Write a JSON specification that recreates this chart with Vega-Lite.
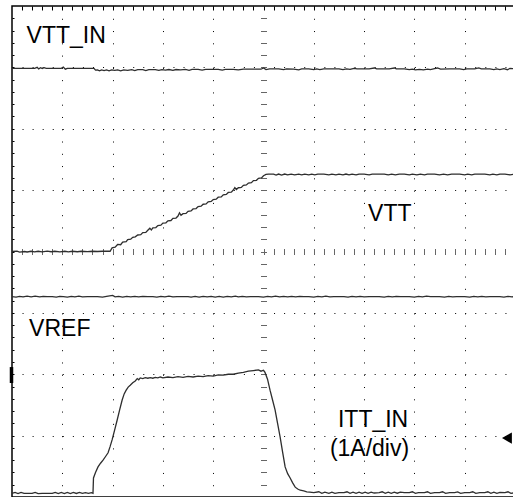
{
  "$schema": "https://vega.github.io/schema/vega-lite/v6.json",
  "width": 503,
  "height": 491,
  "autosize": {"type": "none"},
  "padding": {"left": 12, "top": 6, "right": 0, "bottom": 0},
  "background": "white",
  "config": {
    "view": {"stroke": "#000", "strokeWidth": 1.5},
    "axis": {"labels": false, "title": null, "domain": false, "grid": false, "ticks": false}
  },
  "datasets": {
    "traces": [
      {"s":"VTT_IN","t":0,"v":6.985},{"s":"VTT_IN","t":0.2,"v":6.985},{"s":"VTT_IN","t":0.45,"v":6.985},{"s":"VTT_IN","t":0.5,"v":7.0},{"s":"VTT_IN","t":0.53,"v":6.975},{"s":"VTT_IN","t":0.57,"v":6.995},{"s":"VTT_IN","t":0.6,"v":6.98},{"s":"VTT_IN","t":0.64,"v":6.995},{"s":"VTT_IN","t":0.68,"v":6.985},{"s":"VTT_IN","t":0.98,"v":6.985},{"s":"VTT_IN","t":1.02,"v":7.005},{"s":"VTT_IN","t":1.06,"v":6.97},{"s":"VTT_IN","t":1.1,"v":6.985},{"s":"VTT_IN","t":1.3,"v":6.985},{"s":"VTT_IN","t":1.63,"v":6.985},{"s":"VTT_IN","t":1.66,"v":6.955},{"s":"VTT_IN","t":1.7,"v":6.96},{"s":"VTT_IN","t":1.74,"v":6.945},{"s":"VTT_IN","t":1.78,"v":6.958},{"s":"VTT_IN","t":1.83,"v":6.948},{"s":"VTT_IN","t":1.88,"v":6.96},{"s":"VTT_IN","t":1.93,"v":6.945},{"s":"VTT_IN","t":1.98,"v":6.958},{"s":"VTT_IN","t":2.04,"v":6.95},{"s":"VTT_IN","t":2.1,"v":6.96},{"s":"VTT_IN","t":2.16,"v":6.945},{"s":"VTT_IN","t":2.22,"v":6.96},{"s":"VTT_IN","t":2.3,"v":6.952},{"s":"VTT_IN","t":2.38,"v":6.962},{"s":"VTT_IN","t":2.44,"v":6.948},{"s":"VTT_IN","t":2.5,"v":6.962},{"s":"VTT_IN","t":2.6,"v":6.962},{"s":"VTT_IN","t":2.66,"v":6.948},{"s":"VTT_IN","t":2.72,"v":6.962},{"s":"VTT_IN","t":2.85,"v":6.962},{"s":"VTT_IN","t":2.92,"v":6.95},{"s":"VTT_IN","t":2.98,"v":6.962},{"s":"VTT_IN","t":3.05,"v":6.955},{"s":"VTT_IN","t":3.12,"v":6.965},{"s":"VTT_IN","t":3.2,"v":6.95},{"s":"VTT_IN","t":3.26,"v":6.965},{"s":"VTT_IN","t":3.35,"v":6.96},{"s":"VTT_IN","t":3.45,"v":6.966},{"s":"VTT_IN","t":3.52,"v":6.952},{"s":"VTT_IN","t":3.58,"v":6.966},{"s":"VTT_IN","t":3.7,"v":6.966},{"s":"VTT_IN","t":3.78,"v":6.955},{"s":"VTT_IN","t":3.85,"v":6.968},{"s":"VTT_IN","t":4.0,"v":6.968},{"s":"VTT_IN","t":4.1,"v":6.968},{"s":"VTT_IN","t":4.18,"v":6.955},{"s":"VTT_IN","t":4.24,"v":6.968},{"s":"VTT_IN","t":4.4,"v":6.968},{"s":"VTT_IN","t":4.5,"v":6.96},{"s":"VTT_IN","t":4.6,"v":6.97},{"s":"VTT_IN","t":4.8,"v":6.97},{"s":"VTT_IN","t":4.95,"v":6.97},{"s":"VTT_IN","t":5.0,"v":6.99},{"s":"VTT_IN","t":5.05,"v":6.965},{"s":"VTT_IN","t":5.12,"v":6.975},{"s":"VTT_IN","t":5.3,"v":6.975},{"s":"VTT_IN","t":5.4,"v":6.962},{"s":"VTT_IN","t":5.46,"v":6.975},{"s":"VTT_IN","t":5.6,"v":6.972},{"s":"VTT_IN","t":5.7,"v":6.96},{"s":"VTT_IN","t":5.76,"v":6.975},{"s":"VTT_IN","t":5.9,"v":6.975},{"s":"VTT_IN","t":6.0,"v":6.962},{"s":"VTT_IN","t":6.06,"v":6.975},{"s":"VTT_IN","t":6.12,"v":6.965},{"s":"VTT_IN","t":6.2,"v":6.975},{"s":"VTT_IN","t":6.5,"v":6.975},{"s":"VTT_IN","t":6.58,"v":6.962},{"s":"VTT_IN","t":6.65,"v":6.975},{"s":"VTT_IN","t":6.72,"v":6.968},{"s":"VTT_IN","t":6.8,"v":6.985},{"s":"VTT_IN","t":6.86,"v":6.975},{"s":"VTT_IN","t":7.1,"v":6.975},{"s":"VTT_IN","t":7.2,"v":6.99},{"s":"VTT_IN","t":7.25,"v":6.975},{"s":"VTT_IN","t":7.5,"v":6.975},{"s":"VTT_IN","t":7.6,"v":6.99},{"s":"VTT_IN","t":7.64,"v":6.975},{"s":"VTT_IN","t":7.8,"v":6.975},{"s":"VTT_IN","t":7.9,"v":6.962},{"s":"VTT_IN","t":7.96,"v":6.97},{"s":"VTT_IN","t":8.02,"v":6.958},{"s":"VTT_IN","t":8.1,"v":6.968},{"s":"VTT_IN","t":8.18,"v":6.958},{"s":"VTT_IN","t":8.26,"v":6.972},{"s":"VTT_IN","t":8.32,"v":6.962},{"s":"VTT_IN","t":8.4,"v":6.98},{"s":"VTT_IN","t":8.46,"v":6.99},{"s":"VTT_IN","t":8.52,"v":6.97},{"s":"VTT_IN","t":8.7,"v":6.975},{"s":"VTT_IN","t":8.9,"v":6.975},{"s":"VTT_IN","t":8.98,"v":6.962},{"s":"VTT_IN","t":9.04,"v":6.975},{"s":"VTT_IN","t":9.2,"v":6.975},{"s":"VTT_IN","t":9.28,"v":6.99},{"s":"VTT_IN","t":9.33,"v":6.975},{"s":"VTT_IN","t":9.5,"v":6.975},{"s":"VTT_IN","t":9.58,"v":6.962},{"s":"VTT_IN","t":9.64,"v":6.975},{"s":"VTT_IN","t":9.7,"v":6.965},{"s":"VTT_IN","t":9.78,"v":6.98},{"s":"VTT_IN","t":9.85,"v":6.962},{"s":"VTT_IN","t":9.9,"v":6.985},{"s":"VTT_IN","t":10,"v":6.975},

      {"s":"VTT","t":0,"v":4.0},{"s":"VTT","t":0.1,"v":4.005},{"s":"VTT","t":0.15,"v":3.99},{"s":"VTT","t":0.25,"v":4.0},{"s":"VTT","t":0.3,"v":3.992},{"s":"VTT","t":0.38,"v":4.004},{"s":"VTT","t":0.45,"v":3.994},{"s":"VTT","t":0.52,"v":4.004},{"s":"VTT","t":0.6,"v":3.995},{"s":"VTT","t":0.7,"v":4.005},{"s":"VTT","t":0.78,"v":3.996},{"s":"VTT","t":0.85,"v":4.004},{"s":"VTT","t":0.95,"v":3.995},{"s":"VTT","t":1.05,"v":4.004},{"s":"VTT","t":1.12,"v":3.994},{"s":"VTT","t":1.2,"v":4.004},{"s":"VTT","t":1.3,"v":3.996},{"s":"VTT","t":1.38,"v":4.004},{"s":"VTT","t":1.5,"v":3.998},{"s":"VTT","t":1.6,"v":4.004},{"s":"VTT","t":1.7,"v":4.0},{"s":"VTT","t":1.8,"v":4.004},{"s":"VTT","t":1.95,"v":4.004},
      {"s":"VTT","t":1.99,"v":4.06},{"s":"VTT","t":2.05,"v":4.07},{"s":"VTT","t":2.1,"v":4.115},{"s":"VTT","t":2.16,"v":4.11},{"s":"VTT","t":2.2,"v":4.154},{"s":"VTT","t":2.27,"v":4.16},{"s":"VTT","t":2.3,"v":4.192},{"s":"VTT","t":2.36,"v":4.2},{"s":"VTT","t":2.4,"v":4.231},{"s":"VTT","t":2.45,"v":4.24},{"s":"VTT","t":2.5,"v":4.269},{"s":"VTT","t":2.56,"v":4.275},{"s":"VTT","t":2.6,"v":4.308},{"s":"VTT","t":2.66,"v":4.31},{"s":"VTT","t":2.7,"v":4.346},{"s":"VTT","t":2.74,"v":4.38},{"s":"VTT","t":2.77,"v":4.35},{"s":"VTT","t":2.8,"v":4.385},{"s":"VTT","t":2.86,"v":4.39},{"s":"VTT","t":2.9,"v":4.423},{"s":"VTT","t":2.96,"v":4.43},{"s":"VTT","t":3.0,"v":4.462},{"s":"VTT","t":3.06,"v":4.468},{"s":"VTT","t":3.1,"v":4.5},{"s":"VTT","t":3.16,"v":4.505},{"s":"VTT","t":3.2,"v":4.539},{"s":"VTT","t":3.26,"v":4.545},{"s":"VTT","t":3.3,"v":4.577},{"s":"VTT","t":3.33,"v":4.63},{"s":"VTT","t":3.36,"v":4.59},{"s":"VTT","t":3.4,"v":4.616},{"s":"VTT","t":3.46,"v":4.62},{"s":"VTT","t":3.5,"v":4.654},{"s":"VTT","t":3.56,"v":4.66},{"s":"VTT","t":3.6,"v":4.693},{"s":"VTT","t":3.66,"v":4.7},{"s":"VTT","t":3.7,"v":4.731},{"s":"VTT","t":3.76,"v":4.738},{"s":"VTT","t":3.8,"v":4.77},{"s":"VTT","t":3.86,"v":4.775},{"s":"VTT","t":3.9,"v":4.808},{"s":"VTT","t":3.96,"v":4.815},{"s":"VTT","t":4.0,"v":4.847},{"s":"VTT","t":4.06,"v":4.852},{"s":"VTT","t":4.1,"v":4.885},{"s":"VTT","t":4.16,"v":4.89},{"s":"VTT","t":4.2,"v":4.924},{"s":"VTT","t":4.26,"v":4.93},{"s":"VTT","t":4.3,"v":4.962},{"s":"VTT","t":4.36,"v":4.968},{"s":"VTT","t":4.4,"v":5.001},{"s":"VTT","t":4.43,"v":5.04},{"s":"VTT","t":4.46,"v":5.01},{"s":"VTT","t":4.5,"v":5.039},{"s":"VTT","t":4.56,"v":5.045},{"s":"VTT","t":4.6,"v":5.078},{"s":"VTT","t":4.66,"v":5.085},{"s":"VTT","t":4.7,"v":5.116},{"s":"VTT","t":4.76,"v":5.122},{"s":"VTT","t":4.8,"v":5.155},{"s":"VTT","t":4.86,"v":5.16},{"s":"VTT","t":4.9,"v":5.193},{"s":"VTT","t":4.96,"v":5.2},{"s":"VTT","t":5.0,"v":5.235},{"s":"VTT","t":5.05,"v":5.255},
      {"s":"VTT","t":5.1,"v":5.26},{"s":"VTT","t":5.2,"v":5.26},{"s":"VTT","t":5.25,"v":5.245},{"s":"VTT","t":5.3,"v":5.262},{"s":"VTT","t":5.36,"v":5.245},{"s":"VTT","t":5.42,"v":5.262},{"s":"VTT","t":5.48,"v":5.248},{"s":"VTT","t":5.55,"v":5.262},{"s":"VTT","t":5.62,"v":5.25},{"s":"VTT","t":5.7,"v":5.262},{"s":"VTT","t":5.76,"v":5.248},{"s":"VTT","t":5.82,"v":5.262},{"s":"VTT","t":5.9,"v":5.25},{"s":"VTT","t":5.96,"v":5.262},{"s":"VTT","t":6.02,"v":5.25},{"s":"VTT","t":6.08,"v":5.262},{"s":"VTT","t":6.2,"v":5.262},{"s":"VTT","t":6.3,"v":5.25},{"s":"VTT","t":6.36,"v":5.262},{"s":"VTT","t":6.44,"v":5.25},{"s":"VTT","t":6.5,"v":5.262},{"s":"VTT","t":6.58,"v":5.248},{"s":"VTT","t":6.64,"v":5.262},{"s":"VTT","t":6.7,"v":5.25},{"s":"VTT","t":6.76,"v":5.262},{"s":"VTT","t":6.84,"v":5.248},{"s":"VTT","t":6.9,"v":5.262},{"s":"VTT","t":7.0,"v":5.262},{"s":"VTT","t":7.1,"v":5.25},{"s":"VTT","t":7.16,"v":5.262},{"s":"VTT","t":7.3,"v":5.262},{"s":"VTT","t":7.4,"v":5.262},{"s":"VTT","t":7.48,"v":5.248},{"s":"VTT","t":7.55,"v":5.262},{"s":"VTT","t":7.62,"v":5.25},{"s":"VTT","t":7.7,"v":5.262},{"s":"VTT","t":7.8,"v":5.262},{"s":"VTT","t":7.9,"v":5.25},{"s":"VTT","t":7.96,"v":5.262},{"s":"VTT","t":8.05,"v":5.25},{"s":"VTT","t":8.12,"v":5.262},{"s":"VTT","t":8.2,"v":5.248},{"s":"VTT","t":8.26,"v":5.262},{"s":"VTT","t":8.4,"v":5.262},{"s":"VTT","t":8.5,"v":5.25},{"s":"VTT","t":8.58,"v":5.262},{"s":"VTT","t":8.66,"v":5.25},{"s":"VTT","t":8.74,"v":5.262},{"s":"VTT","t":8.9,"v":5.262},{"s":"VTT","t":9.0,"v":5.25},{"s":"VTT","t":9.06,"v":5.262},{"s":"VTT","t":9.14,"v":5.25},{"s":"VTT","t":9.2,"v":5.262},{"s":"VTT","t":9.4,"v":5.262},{"s":"VTT","t":9.5,"v":5.25},{"s":"VTT","t":9.56,"v":5.262},{"s":"VTT","t":9.64,"v":5.25},{"s":"VTT","t":9.7,"v":5.262},{"s":"VTT","t":9.8,"v":5.262},{"s":"VTT","t":9.9,"v":5.25},{"s":"VTT","t":10,"v":5.262},

      {"s":"VREF","t":0,"v":3.265},{"s":"VREF","t":0.08,"v":3.258},{"s":"VREF","t":0.15,"v":3.27},{"s":"VREF","t":0.22,"v":3.26},{"s":"VREF","t":0.3,"v":3.272},{"s":"VREF","t":0.38,"v":3.262},{"s":"VREF","t":0.46,"v":3.272},{"s":"VREF","t":0.55,"v":3.26},{"s":"VREF","t":0.62,"v":3.27},{"s":"VREF","t":0.7,"v":3.265},{"s":"VREF","t":0.8,"v":3.265},{"s":"VREF","t":0.88,"v":3.258},{"s":"VREF","t":0.95,"v":3.27},{"s":"VREF","t":1.02,"v":3.265},{"s":"VREF","t":1.1,"v":3.258},{"s":"VREF","t":1.18,"v":3.27},{"s":"VREF","t":1.25,"v":3.262},{"s":"VREF","t":1.33,"v":3.272},{"s":"VREF","t":1.4,"v":3.262},{"s":"VREF","t":1.5,"v":3.265},{"s":"VREF","t":1.6,"v":3.265},{"s":"VREF","t":1.7,"v":3.265},{"s":"VREF","t":1.8,"v":3.258},{"s":"VREF","t":1.88,"v":3.268},{"s":"VREF","t":2.0,"v":3.285},{"s":"VREF","t":2.05,"v":3.262},{"s":"VREF","t":2.12,"v":3.27},{"s":"VREF","t":2.2,"v":3.258},{"s":"VREF","t":2.28,"v":3.27},{"s":"VREF","t":2.36,"v":3.26},{"s":"VREF","t":2.44,"v":3.27},{"s":"VREF","t":2.52,"v":3.26},{"s":"VREF","t":2.6,"v":3.27},{"s":"VREF","t":2.7,"v":3.265},{"s":"VREF","t":2.8,"v":3.265},{"s":"VREF","t":2.88,"v":3.258},{"s":"VREF","t":2.96,"v":3.27},{"s":"VREF","t":3.04,"v":3.26},{"s":"VREF","t":3.12,"v":3.272},{"s":"VREF","t":3.2,"v":3.26},{"s":"VREF","t":3.28,"v":3.265},{"s":"VREF","t":3.4,"v":3.265},{"s":"VREF","t":3.5,"v":3.265},{"s":"VREF","t":3.56,"v":3.258},{"s":"VREF","t":3.64,"v":3.27},{"s":"VREF","t":3.72,"v":3.258},{"s":"VREF","t":3.8,"v":3.27},{"s":"VREF","t":3.88,"v":3.26},{"s":"VREF","t":3.96,"v":3.27},{"s":"VREF","t":4.04,"v":3.258},{"s":"VREF","t":4.12,"v":3.27},{"s":"VREF","t":4.2,"v":3.258},{"s":"VREF","t":4.28,"v":3.27},{"s":"VREF","t":4.36,"v":3.26},{"s":"VREF","t":4.44,"v":3.272},{"s":"VREF","t":4.5,"v":3.26},{"s":"VREF","t":4.58,"v":3.27},{"s":"VREF","t":4.66,"v":3.262},{"s":"VREF","t":4.74,"v":3.265},{"s":"VREF","t":4.9,"v":3.265},{"s":"VREF","t":5.0,"v":3.258},{"s":"VREF","t":5.08,"v":3.27},{"s":"VREF","t":5.16,"v":3.26},{"s":"VREF","t":5.24,"v":3.272},{"s":"VREF","t":5.32,"v":3.26},{"s":"VREF","t":5.4,"v":3.27},{"s":"VREF","t":5.48,"v":3.26},{"s":"VREF","t":5.56,"v":3.27},{"s":"VREF","t":5.64,"v":3.262},{"s":"VREF","t":5.72,"v":3.27},{"s":"VREF","t":5.8,"v":3.265},{"s":"VREF","t":5.9,"v":3.265},{"s":"VREF","t":6.0,"v":3.258},{"s":"VREF","t":6.08,"v":3.27},{"s":"VREF","t":6.16,"v":3.26},{"s":"VREF","t":6.24,"v":3.272},{"s":"VREF","t":6.32,"v":3.26},{"s":"VREF","t":6.4,"v":3.265},{"s":"VREF","t":6.6,"v":3.265},{"s":"VREF","t":6.68,"v":3.258},{"s":"VREF","t":6.76,"v":3.27},{"s":"VREF","t":6.84,"v":3.26},{"s":"VREF","t":6.92,"v":3.27},{"s":"VREF","t":7.0,"v":3.262},{"s":"VREF","t":7.1,"v":3.265},{"s":"VREF","t":7.3,"v":3.265},{"s":"VREF","t":7.4,"v":3.258},{"s":"VREF","t":7.48,"v":3.27},{"s":"VREF","t":7.56,"v":3.26},{"s":"VREF","t":7.64,"v":3.27},{"s":"VREF","t":7.72,"v":3.265},{"s":"VREF","t":7.9,"v":3.265},{"s":"VREF","t":8.0,"v":3.258},{"s":"VREF","t":8.08,"v":3.27},{"s":"VREF","t":8.16,"v":3.26},{"s":"VREF","t":8.24,"v":3.272},{"s":"VREF","t":8.32,"v":3.265},{"s":"VREF","t":8.5,"v":3.265},{"s":"VREF","t":8.6,"v":3.258},{"s":"VREF","t":8.68,"v":3.27},{"s":"VREF","t":8.76,"v":3.26},{"s":"VREF","t":8.84,"v":3.265},{"s":"VREF","t":9.0,"v":3.265},{"s":"VREF","t":9.1,"v":3.258},{"s":"VREF","t":9.18,"v":3.27},{"s":"VREF","t":9.26,"v":3.26},{"s":"VREF","t":9.34,"v":3.27},{"s":"VREF","t":9.42,"v":3.262},{"s":"VREF","t":9.5,"v":3.265},{"s":"VREF","t":9.7,"v":3.265},{"s":"VREF","t":9.78,"v":3.258},{"s":"VREF","t":9.86,"v":3.27},{"s":"VREF","t":9.94,"v":3.262},{"s":"VREF","t":10,"v":3.265},

      {"s":"ITT_IN","t":0,"v":0.06},{"s":"ITT_IN","t":0.06,"v":0.075},{"s":"ITT_IN","t":0.12,"v":0.055},{"s":"ITT_IN","t":0.18,"v":0.075},{"s":"ITT_IN","t":0.24,"v":0.06},{"s":"ITT_IN","t":0.4,"v":0.06},{"s":"ITT_IN","t":0.46,"v":0.075},{"s":"ITT_IN","t":0.52,"v":0.055},{"s":"ITT_IN","t":0.6,"v":0.06},{"s":"ITT_IN","t":0.8,"v":0.06},{"s":"ITT_IN","t":0.86,"v":0.075},{"s":"ITT_IN","t":0.92,"v":0.055},{"s":"ITT_IN","t":0.98,"v":0.075},{"s":"ITT_IN","t":1.04,"v":0.055},{"s":"ITT_IN","t":1.1,"v":0.075},{"s":"ITT_IN","t":1.16,"v":0.055},{"s":"ITT_IN","t":1.22,"v":0.075},{"s":"ITT_IN","t":1.28,"v":0.058},{"s":"ITT_IN","t":1.34,"v":0.075},{"s":"ITT_IN","t":1.4,"v":0.058},{"s":"ITT_IN","t":1.46,"v":0.07},{"s":"ITT_IN","t":1.52,"v":0.058},{"s":"ITT_IN","t":1.58,"v":0.07},{"s":"ITT_IN","t":1.61,"v":0.06},{"s":"ITT_IN","t":1.62,"v":0.31},{"s":"ITT_IN","t":1.66,"v":0.4},{"s":"ITT_IN","t":1.71,"v":0.49},{"s":"ITT_IN","t":1.76,"v":0.55},{"s":"ITT_IN","t":1.81,"v":0.6},{"s":"ITT_IN","t":1.86,"v":0.66},{"s":"ITT_IN","t":1.91,"v":0.72},{"s":"ITT_IN","t":1.95,"v":0.82},{"s":"ITT_IN","t":1.99,"v":0.93},{"s":"ITT_IN","t":2.04,"v":1.09},{"s":"ITT_IN","t":2.09,"v":1.25},{"s":"ITT_IN","t":2.14,"v":1.42},{"s":"ITT_IN","t":2.19,"v":1.58},{"s":"ITT_IN","t":2.23,"v":1.68},{"s":"ITT_IN","t":2.27,"v":1.74},{"s":"ITT_IN","t":2.31,"v":1.79},{"s":"ITT_IN","t":2.35,"v":1.82},{"s":"ITT_IN","t":2.4,"v":1.86},{"s":"ITT_IN","t":2.45,"v":1.89},{"s":"ITT_IN","t":2.49,"v":1.93},{"s":"ITT_IN","t":2.52,"v":1.91},{"s":"ITT_IN","t":2.55,"v":1.94},{"s":"ITT_IN","t":2.6,"v":1.93},{"s":"ITT_IN","t":2.65,"v":1.945},{"s":"ITT_IN","t":2.7,"v":1.935},{"s":"ITT_IN","t":2.75,"v":1.945},{"s":"ITT_IN","t":2.8,"v":1.935},{"s":"ITT_IN","t":2.85,"v":1.948},{"s":"ITT_IN","t":2.9,"v":1.94},{"s":"ITT_IN","t":2.95,"v":1.955},{"s":"ITT_IN","t":3.0,"v":1.942},{"s":"ITT_IN","t":3.1,"v":1.955},{"s":"ITT_IN","t":3.2,"v":1.945},{"s":"ITT_IN","t":3.3,"v":1.96},{"s":"ITT_IN","t":3.4,"v":1.95},{"s":"ITT_IN","t":3.5,"v":1.965},{"s":"ITT_IN","t":3.6,"v":1.955},{"s":"ITT_IN","t":3.7,"v":1.97},{"s":"ITT_IN","t":3.8,"v":1.96},{"s":"ITT_IN","t":3.9,"v":1.978},{"s":"ITT_IN","t":4.0,"v":1.97},{"s":"ITT_IN","t":4.1,"v":1.99},{"s":"ITT_IN","t":4.2,"v":1.985},{"s":"ITT_IN","t":4.3,"v":2.0},{"s":"ITT_IN","t":4.4,"v":2.0},{"s":"ITT_IN","t":4.5,"v":2.02},{"s":"ITT_IN","t":4.6,"v":2.03},{"s":"ITT_IN","t":4.7,"v":2.05},{"s":"ITT_IN","t":4.8,"v":2.06},{"s":"ITT_IN","t":4.9,"v":2.07},{"s":"ITT_IN","t":4.95,"v":2.05},{"s":"ITT_IN","t":5.0,"v":2.065},{"s":"ITT_IN","t":5.03,"v":2.03},{"s":"ITT_IN","t":5.08,"v":1.92},{"s":"ITT_IN","t":5.13,"v":1.74},{"s":"ITT_IN","t":5.18,"v":1.58},{"s":"ITT_IN","t":5.23,"v":1.42},{"s":"ITT_IN","t":5.28,"v":1.2},{"s":"ITT_IN","t":5.33,"v":0.98},{"s":"ITT_IN","t":5.38,"v":0.73},{"s":"ITT_IN","t":5.43,"v":0.49},{"s":"ITT_IN","t":5.48,"v":0.38},{"s":"ITT_IN","t":5.53,"v":0.31},{"s":"ITT_IN","t":5.58,"v":0.23},{"s":"ITT_IN","t":5.63,"v":0.16},{"s":"ITT_IN","t":5.68,"v":0.13},{"s":"ITT_IN","t":5.73,"v":0.11},{"s":"ITT_IN","t":5.8,"v":0.1},{"s":"ITT_IN","t":5.86,"v":0.085},{"s":"ITT_IN","t":5.92,"v":0.08},{"s":"ITT_IN","t":6.0,"v":0.07},{"s":"ITT_IN","t":6.1,"v":0.085},{"s":"ITT_IN","t":6.16,"v":0.06},{"s":"ITT_IN","t":6.22,"v":0.078},{"s":"ITT_IN","t":6.3,"v":0.06},{"s":"ITT_IN","t":6.36,"v":0.078},{"s":"ITT_IN","t":6.42,"v":0.06},{"s":"ITT_IN","t":6.5,"v":0.07},{"s":"ITT_IN","t":6.6,"v":0.07},{"s":"ITT_IN","t":6.66,"v":0.085},{"s":"ITT_IN","t":6.72,"v":0.06},{"s":"ITT_IN","t":6.78,"v":0.08},{"s":"ITT_IN","t":6.84,"v":0.06},{"s":"ITT_IN","t":6.9,"v":0.08},{"s":"ITT_IN","t":6.96,"v":0.06},{"s":"ITT_IN","t":7.02,"v":0.08},{"s":"ITT_IN","t":7.08,"v":0.06},{"s":"ITT_IN","t":7.14,"v":0.078},{"s":"ITT_IN","t":7.2,"v":0.065},{"s":"ITT_IN","t":7.3,"v":0.07},{"s":"ITT_IN","t":7.36,"v":0.085},{"s":"ITT_IN","t":7.42,"v":0.06},{"s":"ITT_IN","t":7.48,"v":0.08},{"s":"ITT_IN","t":7.54,"v":0.06},{"s":"ITT_IN","t":7.6,"v":0.078},{"s":"ITT_IN","t":7.66,"v":0.062},{"s":"ITT_IN","t":7.72,"v":0.08},{"s":"ITT_IN","t":7.8,"v":0.07},{"s":"ITT_IN","t":7.9,"v":0.07},{"s":"ITT_IN","t":7.96,"v":0.085},{"s":"ITT_IN","t":8.02,"v":0.06},{"s":"ITT_IN","t":8.08,"v":0.07},{"s":"ITT_IN","t":8.2,"v":0.07},{"s":"ITT_IN","t":8.26,"v":0.085},{"s":"ITT_IN","t":8.32,"v":0.06},{"s":"ITT_IN","t":8.4,"v":0.07},{"s":"ITT_IN","t":8.5,"v":0.07},{"s":"ITT_IN","t":8.56,"v":0.085},{"s":"ITT_IN","t":8.62,"v":0.06},{"s":"ITT_IN","t":8.7,"v":0.07},{"s":"ITT_IN","t":8.8,"v":0.07},{"s":"ITT_IN","t":8.86,"v":0.082},{"s":"ITT_IN","t":8.92,"v":0.06},{"s":"ITT_IN","t":9.0,"v":0.07},{"s":"ITT_IN","t":9.1,"v":0.07},{"s":"ITT_IN","t":9.16,"v":0.085},{"s":"ITT_IN","t":9.22,"v":0.06},{"s":"ITT_IN","t":9.3,"v":0.07},{"s":"ITT_IN","t":9.4,"v":0.07},{"s":"ITT_IN","t":9.46,"v":0.085},{"s":"ITT_IN","t":9.52,"v":0.06},{"s":"ITT_IN","t":9.58,"v":0.08},{"s":"ITT_IN","t":9.64,"v":0.06},{"s":"ITT_IN","t":9.7,"v":0.075},{"s":"ITT_IN","t":9.8,"v":0.07},{"s":"ITT_IN","t":9.86,"v":0.085},{"s":"ITT_IN","t":9.92,"v":0.06},{"s":"ITT_IN","t":10,"v":0.07}
    ],
    "labels": [
      {"x": 0.29, "y": 7.39, "label": "VTT_IN"},
      {"x": 7.08, "y": 4.5, "label": "VTT"},
      {"x": 0.34, "y": 2.622, "label": "VREF"},
      {"x": 6.48, "y": 1.145, "label": "ITT_IN"},
      {"x": 6.32, "y": 0.668, "label": "(1A/div)"}
    ],
    "markers": [
      {"x": 9.84, "y": 0.96, "kind": "trigger"}
    ],
    "ground": [
      {"x": -0.01, "y": 1.857, "y2": 2.117}
    ]
  },
  "layer": [
    {
      "data": {"name": "traces"},
      "mark": {"type": "line", "color": "#2e2e2e", "strokeWidth": 1.3},
      "encoding": {
        "x": {"field": "t", "type": "quantitative",
          "scale": {"domain": [0, 10], "nice": false, "zero": false},
          "axis": {"orient": "bottom", "grid": true, "values": [1, 2, 3, 4, 6, 7, 8, 9], "gridDash": [1, 11.275], "gridColor": "#000", "gridOpacity": 1, "gridWidth": 1}},
        "y": {"field": "v", "type": "quantitative",
          "scale": {"domain": [0, 8], "nice": false, "zero": false},
          "axis": {"orient": "left", "grid": true, "values": [1, 2, 3, 5, 6, 7], "gridDash": [1, 9.06], "gridColor": "#000", "gridOpacity": 1, "gridWidth": 1}},
        "detail": {"field": "s", "type": "nominal"}
      }
    },
    {
      "mark": {"type": "rule", "color": "#555", "strokeDash": [1, 1], "strokeWidth": 1},
      "encoding": {"y": {"datum": 4, "type": "quantitative", "axis": null}}
    },
    {
      "mark": {"type": "rule", "color": "#555", "strokeDash": [1, 1], "strokeWidth": 1},
      "encoding": {"x": {"datum": 5, "type": "quantitative", "axis": null}}
    },
    {
      "data": {"name": "labels"},
      "mark": {"type": "text", "align": "left", "baseline": "alphabetic", "font": "Liberation Sans", "fontSize": 23, "color": "#000"},
      "encoding": {
        "x": {"field": "x", "type": "quantitative",
          "axis": {"orient": "top", "ticks": true, "tickSize": -4, "tickColor": "#000", "tickWidth": 1,
            "values": [0.2,0.4,0.6,0.8,1,1.2,1.4,1.6,1.8,2,2.2,2.4,2.6,2.8,3,3.2,3.4,3.6,3.8,4,4.2,4.4,4.6,4.8,5,5.2,5.4,5.6,5.8,6,6.2,6.4,6.6,6.8,7,7.2,7.4,7.6,7.8,8,8.2,8.4,8.6,8.8,9,9.2,9.4,9.6,9.8]}},
        "y": {"field": "y", "type": "quantitative",
          "axis": {"orient": "left", "ticks": true, "tickSize": -2, "tickColor": "#000", "tickWidth": 1,
            "values": [0.2,0.4,0.6,0.8,1,1.2,1.4,1.6,1.8,2,2.2,2.4,2.6,2.8,3,3.2,3.4,3.6,3.8,4,4.2,4.4,4.6,4.8,5,5.2,5.4,5.6,5.8,6,6.2,6.4,6.6,6.8,7,7.2,7.4,7.6,7.8]}},
        "text": {"field": "label", "type": "nominal"}
      }
    },
    {
      "data": {"name": "markers"},
      "mark": {"type": "point", "shape": "triangle-left", "filled": true, "color": "#000", "size": 130, "opacity": 1},
      "encoding": {
        "x": {"field": "x", "type": "quantitative",
          "axis": {"orient": "bottom", "offset": -248.5, "ticks": true, "tickSize": 6, "tickColor": "#666", "tickWidth": 1,
            "values": [0.2,0.4,0.6,0.8,1,1.2,1.4,1.6,1.8,2,2.2,2.4,2.6,2.8,3,3.2,3.4,3.6,3.8,4,4.2,4.4,4.6,4.8,5,5.2,5.4,5.6,5.8,6,6.2,6.4,6.6,6.8,7,7.2,7.4,7.6,7.8,8,8.2,8.4,8.6,8.8,9,9.2,9.4,9.6,9.8]}},
        "y": {"field": "y", "type": "quantitative",
          "axis": {"orient": "left", "offset": -254.5, "ticks": true, "tickSize": 6, "tickColor": "#666", "tickWidth": 1,
            "values": [0.2,0.4,0.6,0.8,1,1.2,1.4,1.6,1.8,2,2.2,2.4,2.6,2.8,3,3.2,3.4,3.6,3.8,4,4.2,4.4,4.6,4.8,5,5.2,5.4,5.6,5.8,6,6.2,6.4,6.6,6.8,7,7.2,7.4,7.6,7.8]}}
      }
    },
    {
      "data": {"name": "ground"},
      "mark": {"type": "rule", "color": "#000", "strokeWidth": 3.5},
      "encoding": {
        "x": {"field": "x", "type": "quantitative", "axis": null},
        "y": {"field": "y", "type": "quantitative", "axis": null},
        "y2": {"field": "y2"}
      }
    }
  ],
  "resolve": {"axis": {"x": "independent", "y": "independent"}}
}
